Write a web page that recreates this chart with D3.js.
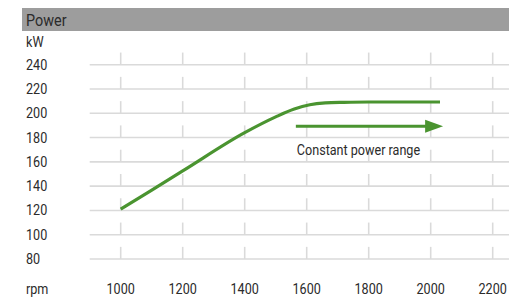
<!DOCTYPE html>
<html>
<head>
<meta charset="utf-8">
<script src="https://cdn.jsdelivr.net/npm/d3@7"></script>
<style>
  body { margin: 0; background: #fff; }
  svg text { font-family: Roboto, "Noto Sans", sans-serif; fill: #2b2b2b; }
</style>
</head>
<body>
<svg width="509" height="299"></svg>
<script>
// data
var rpmTicks = [1000, 1200, 1400, 1600, 1800, 2000, 2200];
var kwTicks = [80, 100, 120, 140, 160, 180, 200, 220, 240];
var rpm = [1000, 1200, 1400, 1500, 1560, 1610, 1660, 1720, 1800, 1900, 2030];
var kw = [121, 152.5, 184, 197, 203.5, 207, 208.5, 209, 209.3, 209.3, 209.3];
var arrowRpm = [1565, 2040];
var arrowKw = 189.3;
var label = "Constant power range";

var svg = d3.select("svg"),
    W = +svg.attr("width");

var x = d3.scaleLinear().domain([1000, 2200]).range([120.7, 492.7]);
var y = d3.scaleLinear().domain([80, 240]).range([259, 64.7]);

var green = "#4a9430",
    gridColor = "#dadada",
    sx = 0.9; // narrow look of the lettering

function txt(g, s, px, py, size, anchor) {
    return g.append("text")
        .attr("transform", "translate(" + px + "," + py + ") scale(" + sx + ",1)")
        .attr("font-size", size)
        .attr("text-anchor", anchor || "start")
        .text(s);
}

// title bar
svg.append("rect")
    .attr("x", 22).attr("y", 8)
    .attr("width", W - 22).attr("height", 23)
    .attr("fill", "#9d9d9d");
txt(svg, "Power", 26, 26, 16);
txt(svg, "kW", 26, 47, 14);

// grid: horizontal lines + short vertical stubs
var grid = svg.append("g").attr("stroke", gridColor).attr("stroke-width", 1.6);

grid.selectAll("line.h")
    .data(kwTicks)
    .enter().append("line")
    .attr("class", "h")
    .attr("x1", x(900)).attr("x2", W)
    .attr("y1", function (d) { return y(d); })
    .attr("y2", function (d) { return y(d); });

kwTicks.forEach(function (v) {
    grid.selectAll(null)
        .data(rpmTicks)
        .enter().append("line")
        .attr("x1", function (d) { return x(d); })
        .attr("x2", function (d) { return x(d); })
        .attr("y1", y(v + 10))
        .attr("y2", y(v));
});

// tick labels
var labels = svg.append("g");
kwTicks.forEach(function (v) {
    txt(labels, String(v), 26, y(v) + 5, 14);
});
rpmTicks.forEach(function (v) {
    txt(labels, String(v), x(v), 294, 14, "middle");
});
txt(labels, "rpm", 26, 294, 14);

// power curve
var line = d3.line()
    .x(function (d) { return x(d[0]); })
    .y(function (d) { return y(d[1]); })
    .curve(d3.curveMonotoneX);

svg.append("path")
    .datum(d3.zip(rpm, kw))
    .attr("d", line)
    .attr("fill", "none")
    .attr("stroke", green)
    .attr("stroke-width", 3.2);

// constant power arrow
var ay = y(arrowKw);
svg.append("line")
    .attr("x1", x(arrowRpm[0])).attr("x2", x(arrowRpm[1]) - 14)
    .attr("y1", ay).attr("y2", ay)
    .attr("stroke", green)
    .attr("stroke-width", 3);
svg.append("path")
    .attr("d", "M" + x(arrowRpm[1]) + "," + ay +
        "L" + (x(arrowRpm[1]) - 18) + "," + (ay - 6.5) +
        "L" + (x(arrowRpm[1]) - 18) + "," + (ay + 6.5) + "Z")
    .attr("fill", green);

txt(svg, label, x(arrowRpm[0]) + 1, ay + 29, 14);
</script>
</body>
</html>
